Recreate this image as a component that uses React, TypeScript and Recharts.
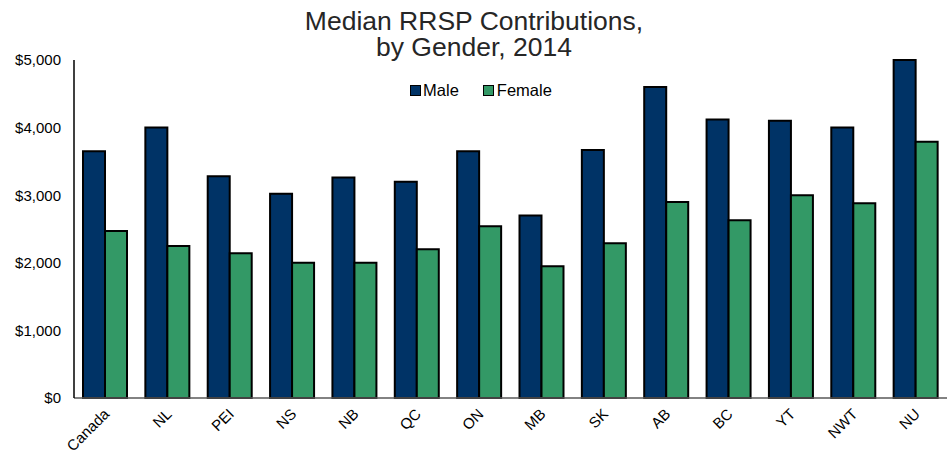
import React from "react";
import { BarChart, Bar, XAxis, YAxis } from "recharts";

const categories = ["Canada", "NL", "PEI", "NS", "NB", "QC", "ON", "MB", "SK", "AB", "BC", "YT", "NWT", "NU"];
const maleValues = [3650, 4000, 3280, 3020, 3260, 3200, 3650, 2700, 3670, 4600, 4120, 4100, 4000, 5000];
const femaleValues = [2470, 2250, 2140, 2000, 2000, 2200, 2540, 1950, 2290, 2900, 2630, 3000, 2880, 3790];
const yTicks = [0, 1000, 2000, 3000, 4000, 5000];

const data = categories.map((c, i) => ({ name: c, Male: maleValues[i], Female: femaleValues[i] }));

const MALE = "#003366";
const FEMALE = "#339966";
const FONT = "'Liberation Sans', Arial, sans-serif";

const XTick = (props: any) => {
  const { x, y, payload } = props;
  return (
    <g transform={`translate(${x + 5},${y + 9})`}>
      <text textAnchor="end" transform="rotate(-45)" fontSize={15} fontFamily={FONT} fill="#000">
        {payload.value}
      </text>
    </g>
  );
};

export default function App() {
  return (
    <div style={{ position: "absolute", left: 0, top: 0, width: 948, height: 451, background: "#fff", fontFamily: FONT }}>
      <div
        style={{
          position: "absolute",
          left: 0,
          top: 8,
          width: 948,
          textAlign: "center",
          fontSize: 26.5,
          lineHeight: "26px",
          color: "#262626",
        }}
      >
        Median RRSP Contributions,
        <br />
        by Gender, 2014
      </div>
      <div style={{ position: "absolute", left: 0, top: 81, width: 948, display: "flex", justifyContent: "center", fontSize: 16.5, color: "#000" }}>
        <div style={{ display: "flex", alignItems: "center", marginRight: 24, marginLeft: 14 }}>
          <span style={{ display: "inline-block", width: 9, height: 9, background: MALE, border: "1.5px solid #000", marginRight: 2 }} />
          Male
        </div>
        <div style={{ display: "flex", alignItems: "center" }}>
          <span style={{ display: "inline-block", width: 9, height: 9, background: FEMALE, border: "1.5px solid #000", marginRight: 3 }} />
          Female
        </div>
      </div>
      <BarChart
        width={948}
        height={451}
        data={data}
        margin={{ top: 60, right: 1, left: 0, bottom: 0 }}
        barGap={0}
        barSize={22}
      >
        <XAxis
          dataKey="name"
          height={53}
          tick={<XTick />}
          tickLine={false}
          axisLine={{ stroke: "#595959", strokeWidth: 1.5 }}
          interval={0}
        />
        <YAxis
          width={74}
          domain={[0, 5000]}
          ticks={yTicks}
          tickLine={false}
          axisLine={{ stroke: "#000", strokeWidth: 1.5 }}
          tick={{ fontSize: 15, fill: "#000", fontFamily: FONT }}
          tickMargin={7}
          tickFormatter={(v: number) => `$${v.toLocaleString("en-US")}`}
        />
        <Bar dataKey="Male" fill={MALE} stroke="#000" strokeWidth={2} isAnimationActive={false} />
        <Bar dataKey="Female" fill={FEMALE} stroke="#000" strokeWidth={2} isAnimationActive={false} />
      </BarChart>
    </div>
  );
}
